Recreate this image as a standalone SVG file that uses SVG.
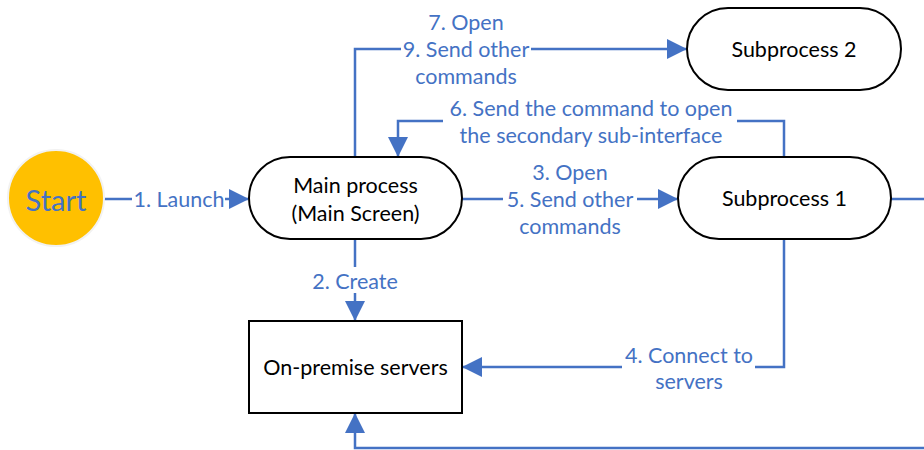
<svg xmlns="http://www.w3.org/2000/svg" width="924" height="450" viewBox="0 0 924 450">
<defs>
<marker id="arr" markerWidth="8" markerHeight="8" refX="7.6" refY="4" orient="auto" markerUnits="strokeWidth">
<path d="M0,0 L8,4 L0,8 Z" fill="#4472C4"/>
</marker>
<style>
.node{fill:#fff;stroke:#000;stroke-width:2}
.ntxt{font-family:Lato,"Liberation Sans",sans-serif;font-size:21.5px;fill:#000;text-anchor:middle;dominant-baseline:central}
.edge{fill:none;stroke:#4472C4;stroke-width:2.5}
.lbl{font-family:Lato,"Liberation Sans",sans-serif;font-size:21.5px;fill:#4472C4;text-anchor:middle;dominant-baseline:central}
.bg{fill:#fff}
</style>
</defs>
<rect width="924" height="450" fill="#fff"/>
<g id="connectors">
<path class="edge" d="M104,199 H248" marker-end="url(#arr)"/>
<path class="edge" d="M355,240 V320" marker-end="url(#arr)"/>
<path class="edge" d="M355,157 V49 H686" marker-end="url(#arr)"/>
<path class="edge" d="M784,157 V121 H398 V156" marker-end="url(#arr)"/>
<path class="edge" d="M462,199 H677" marker-end="url(#arr)"/>
<path class="edge" d="M784,240 V367 H463" marker-end="url(#arr)"/>
<path class="edge" d="M891,199 H940 V448 H355 V414" marker-end="url(#arr)"/>
<g id="labels">
<rect class="bg" x="132" y="188" width="93" height="22"/>
<text class="lbl" x="179" y="199">1. Launch</text>
<rect class="bg" x="335" y="267" width="40" height="26"/>
<text class="lbl" x="355" y="281">2. Create</text>
<rect class="bg" x="401" y="38" width="130" height="22"/>
<text class="lbl" x="466" y="22">7. Open</text>
<text class="lbl" x="466" y="49">9. Send other</text>
<text class="lbl" x="466" y="76">commands</text>
<rect class="bg" x="443" y="110" width="294" height="22"/>
<text class="lbl" x="591" y="108">6. Send the command to open</text>
<text class="lbl" x="591" y="135">the secondary sub-interface</text>
<rect class="bg" x="503" y="188" width="134" height="22"/>
<text class="lbl" x="570" y="172">3. Open</text>
<text class="lbl" x="570" y="199">5. Send other</text>
<text class="lbl" x="570" y="226">commands</text>
<rect class="bg" x="622" y="356" width="133" height="22"/>
<text class="lbl" x="689" y="355">4. Connect to</text>
<text class="lbl" x="689" y="381">servers</text>
</g>
</g>
<g id="start">
<circle cx="56" cy="198" r="48" fill="#FFC000" stroke="#F2F2F2" stroke-width="2"/>
<text x="56" y="199" font-family="Lato,'Liberation Sans',sans-serif" font-size="29" fill="#4472C4" text-anchor="middle" dominant-baseline="central">Start</text>
</g>
<g id="main">
<rect class="node" x="249" y="157" width="213" height="82" rx="41"/>
<text class="ntxt" x="355.5" y="185">Main process</text>
<text class="ntxt" x="355.5" y="213">(Main Screen)</text>
</g>
<g id="sub1">
<rect class="node" x="678" y="157" width="213" height="82" rx="41"/>
<text class="ntxt" x="784.5" y="198">Subprocess 1</text>
</g>
<g id="sub2">
<rect class="node" x="687" y="8" width="214" height="82" rx="41"/>
<text class="ntxt" x="794" y="49">Subprocess 2</text>
</g>
<g id="servers">
<rect class="node" x="249" y="321" width="213" height="92" rx="0"/>
<text class="ntxt" x="355.5" y="367">On-premise servers</text>
</g>
</svg>
